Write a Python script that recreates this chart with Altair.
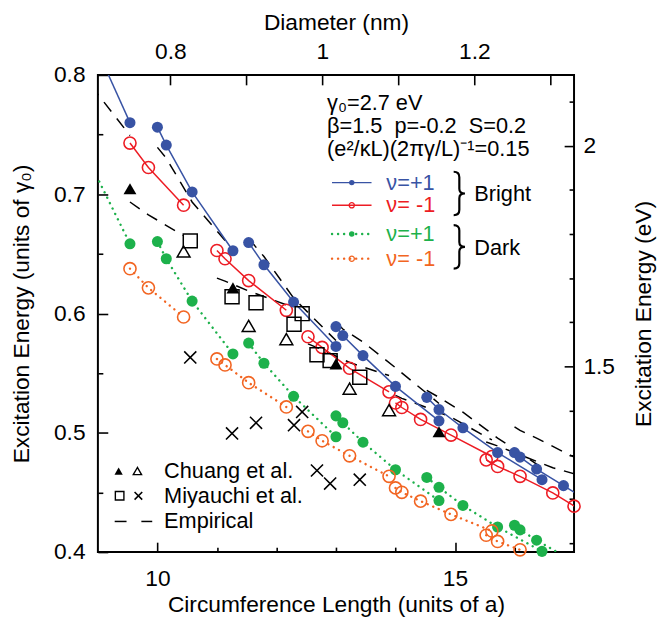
import altair as alt
import pandas as pd

FONT = "Liberation Sans"
FS = 23          # axis labels / titles
FS_ANN = 22      # annotation text
K_NM = 0.246 / 3.141592653589793   # diameter (nm) per unit of circumference (a)
GAMMA0 = 2.7                       # eV per unit of gamma0

BLUE = "#3853a4"
RED = "#ed1c24"
GREEN = "#1db14b"
ORANGE = "#f26522"

# ---------------- computed exciton energies, nu = +1 tubes ----------------
plus_L = [8.888, 9.539, 10.0, 10.149, 10.583, 11.269, 11.533, 11.790, 12.288, 13.0,
          13.0, 13.115, 13.454, 14.0, 14.731, 14.526, 14.731, 15.133, 15.716, 16.462,
          16.0, 16.093, 16.371, 16.823, 17.436]
plus_family = [17, 17, 20, 20, 20, 20, 23, 23, 23, 23,
               26, 26, 26, 26, 26, 29, 29, 29, 29, 29,
               32, 32, 32, 32, 32]
bright_plus_E = [0.832, 0.760, 0.7562, 0.7412, 0.7019, 0.6526, 0.6595, 0.6409, 0.6096, 0.5724,
                 0.5890, 0.5815, 0.5647, 0.5389, 0.5100, 0.5297, 0.5195, 0.5042, 0.4834, 0.4607,
                 0.4834, 0.4796, 0.4696, 0.4557, 0.437]
dark_plus_E = [0.7243, 0.6584, 0.6603, 0.6459, 0.6104, 0.5661, 0.5752, 0.5583, 0.5306, 0.4967,
               0.5142, 0.5084, 0.4921, 0.4690, 0.4432, 0.4626, 0.4543, 0.4391, 0.4210, 0.4006,
               0.4225, 0.4186, 0.4100, 0.397, 0.372]

# ---------------- computed exciton energies, nu = -1 tubes ----------------
minus_L = [9.539, 9.849, 10.440, 11.0, 11.136, 11.533, 12.166, 12.530, 12.767, 13.229,
           13.892, 14.0, 14.107, 14.422, 14.933, 15.620, 15.524, 15.716, 16.093, 16.643,
           17.349, 17.0]
minus_family = [19, 19, 19, 22, 22, 22, 22, 25, 25, 25,
                25, 28, 28, 28, 28, 28, 31, 31, 31, 31,
                31, 34]
bright_minus_E = [0.7429, 0.7224, 0.6908, 0.6528, 0.6459, 0.6276, 0.6027, 0.5805, 0.5716, 0.5541,
                  0.5343, 0.5250, 0.5212, 0.5112, 0.4981, 0.4801, 0.4773, 0.4718, 0.4635, 0.4496,
                  0.428, 0.4385]
dark_minus_E = [0.6376, 0.6215, 0.5971, 0.5619, 0.5569, 0.5420, 0.5217, 0.5012, 0.4933, 0.4807,
                0.4635, 0.4538, 0.4501, 0.4427, 0.4316, 0.4177, 0.4141, 0.4089, 0.4019, 0.389,
                0.37, 0.378]

# ---------------- empirical (dashed) ----------------
emp_L = [8.888, 9.539,
         10.0, 10.149, 10.583, 11.269,
         9.539, 9.849, 10.44,
         11.0, 11.136, 11.533, 12.166,
         11.533, 11.79, 12.288, 13.0,
         12.53, 12.767, 13.229, 13.892,
         13.0, 13.115, 13.454, 14.0, 14.731,
         14.0, 14.107, 14.422, 14.933, 15.62,
         14.526, 14.731, 15.133, 15.716, 16.462,
         15.524, 15.716, 16.093, 16.643, 17.349,
         16.0, 16.093, 16.371, 16.823, 17.436]
emp_E = [0.7909, 0.7493,
         0.7393, 0.7302, 0.6935, 0.6535,
         0.6935, 0.6827, 0.6653,
         0.6297, 0.6272, 0.6189, 0.6073,
         0.6628, 0.6478, 0.6130, 0.5773,
         0.5746, 0.5697, 0.5589, 0.5480,
         0.5929, 0.5870, 0.5762, 0.5546, 0.5246,
         0.5314, 0.5289, 0.5231, 0.5131, 0.4940,
         0.5356, 0.5297, 0.5173, 0.4956, 0.4707,
         0.4923, 0.4890, 0.4815, 0.4707, 0.4607,
         0.5050, 0.5020, 0.4955, 0.4840, 0.4690]
emp_family = [17, 17, 20, 20, 20, 20, 19, 19, 19, 22, 22, 22, 22, 23, 23, 23, 23,
              25, 25, 25, 25, 26, 26, 26, 26, 26, 28, 28, 28, 28, 28,
              29, 29, 29, 29, 29, 31, 31, 31, 31, 31, 32, 32, 32, 32, 32]

# ---------------- experiments ----------------
chuang_fill_L = [9.539, 11.269, 13.0, 14.731]
chuang_fill_E = [0.7046, 0.6215, 0.5578, 0.5009]
chuang_open_L = [10.44, 11.533, 12.166, 13.229, 13.892]
chuang_open_E = [0.652, 0.5896, 0.5785, 0.537, 0.519]
miya_L = [10.552, 11.254, 11.657, 12.295, 12.432, 12.681, 12.902, 13.40]
miya_square_E = [0.6609, 0.614, 0.609, 0.591, 0.5999, 0.5655, 0.5605, 0.5466]
miya_cross_E = [0.5632, 0.4995, 0.5084, 0.5064, 0.5175, 0.4684, 0.4574, 0.4607]

# ---------------- axis ticks ----------------
x_major = [10, 15]
x_minor = [11, 12, 13, 14, 16]
y_major = [0.4, 0.5, 0.6, 0.7, 0.8]
y_minor = [0.45, 0.55, 0.65, 0.75]
d_ticks = [0.8, 0.9, 1.0, 1.1, 1.2, 1.3]
ev_major = [1.5, 2.0]
ev_minor = [1.1, 1.2, 1.3, 1.4, 1.6, 1.7, 1.8, 1.9, 2.1]

X_DOM = [9, 17]
Y_DOM = [0.4, 0.8]

df_plus = pd.DataFrame({"L": plus_L, "fam": plus_family, "bright": bright_plus_E, "dark": dark_plus_E})
df_minus = pd.DataFrame({"L": minus_L, "fam": minus_family, "bright": bright_minus_E, "dark": dark_minus_E})
df_emp = pd.DataFrame({"L": emp_L, "E": emp_E, "fam": emp_family})
df_cf = pd.DataFrame({"L": chuang_fill_L, "E": chuang_fill_E})
df_co = pd.DataFrame({"L": chuang_open_L, "E": chuang_open_E})
df_ms = pd.DataFrame({"L": miya_L, "E": miya_square_E})
df_mx = pd.DataFrame({"L": miya_L, "E": miya_cross_E})
df_ax = pd.DataFrame({"L": X_DOM, "E": Y_DOM,
                      "d": [v * K_NM for v in X_DOM], "eV": [v * GAMMA0 for v in Y_DOM]})
one = pd.DataFrame({"k": [0]})


def xs():
    return alt.Scale(domain=X_DOM, nice=False, zero=False)


def ys():
    return alt.Scale(domain=Y_DOM, nice=False, zero=False)


def X(field="L"):
    return alt.X(field, type="quantitative", scale=xs(), axis=None)


def Y(field="E"):
    return alt.Y(field, type="quantitative", scale=ys(), axis=None)


AX = dict(domain=False, grid=False, labelFont=FONT, labelFontSize=FS, labelColor="black",
          titleFont=FONT, titleFontSize=FS, titleFontWeight="normal", titleColor="black",
          tickColor="black", tickWidth=1.6, labelFlush=False, labelOverlap=False)

# ---- axes (inward ticks via negative offset) ----
ax_main = alt.Chart(df_ax).mark_point(opacity=0).encode(
    x=alt.X("L:Q", scale=xs(), axis=alt.Axis(orient="bottom", values=x_major, tickSize=10, offset=-10,
                                              labelPadding=16, title="Circumference Length (units of a)",
                                              titlePadding=3, **AX)),
    y=alt.Y("E:Q", scale=ys(), axis=alt.Axis(orient="left", values=y_major, format=".1f", tickSize=10,
                                              offset=-10, labelPadding=13,
                                              title="Excitation Energy (units of γ₀)", titlePadding=20, **AX)),
)
ax_minor = alt.Chart(df_ax).mark_point(opacity=0).encode(
    x=alt.X("L:Q", scale=xs(), axis=alt.Axis(orient="bottom", values=x_minor, tickSize=5, offset=-5,
                                              labels=False, title="", **AX)),
    y=alt.Y("E:Q", scale=ys(), axis=alt.Axis(orient="left", values=y_minor, tickSize=5, offset=-5,
                                              labels=False, title="", **AX)),
)
ax_second = alt.Chart(df_ax).mark_point(opacity=0).encode(
    x=alt.X("d:Q", scale=alt.Scale(domain=[v * K_NM for v in X_DOM], nice=False, zero=False),
            axis=alt.Axis(orient="top", values=d_ticks, format="~g", tickSize=10, offset=-10,
                          labelPadding=12,
                          labelExpr="(round(datum.value*10) % 2 == 0) ? datum.label : ''",
                          title="Diameter (nm)", titlePadding=6, **AX)),
    y=alt.Y("eV:Q", scale=alt.Scale(domain=[v * GAMMA0 for v in Y_DOM], nice=False, zero=False),
            axis=alt.Axis(orient="right", values=ev_major, format="~g", tickSize=10, offset=-10,
                          labelPadding=9, title="Excitation Energy (eV)", titleAngle=270,
                          titleBaseline="top", titlePadding=18, **AX)),
)
ax_second_minor = alt.Chart(df_ax).mark_point(opacity=0).encode(
    y=alt.Y("eV:Q", scale=alt.Scale(domain=[v * GAMMA0 for v in Y_DOM], nice=False, zero=False),
            axis=alt.Axis(orient="right", values=ev_minor, tickSize=5, offset=-5, labels=False,
                          title="", **AX)),
)

# ---- empirical dashed ----
emp = alt.Chart(df_emp).mark_line(color="black", strokeWidth=1.5, strokeDash=[12, 9], clip=True).encode(
    x=X(), y=Y(), detail="fam:N", order="L:Q")


def series(df, field, color, filled, dotted):
    line_kw = dict(color=color, clip=True)
    if dotted:
        line_kw.update(strokeWidth=2.4, strokeDash=[0.1, 6], strokeCap="round")
    else:
        line_kw.update(strokeWidth=1.5)
    line = alt.Chart(df).mark_line(**line_kw).encode(x=X(), y=Y(field), detail="fam:N", order="L:Q")
    flt = f"datum.L >= 9 && datum.L <= 17 && datum.{field} >= 0.399 && datum.{field} <= 0.8"
    if filled:
        pts = alt.Chart(df).transform_filter(flt).mark_point(
            shape="circle", filled=True, size=125, color=color, opacity=1).encode(x=X(), y=Y(field))
    else:
        pts = alt.Chart(df).transform_filter(flt).mark_point(
            shape="circle", filled=False, size=150, strokeWidth=1.6, color=color, opacity=1).encode(
            x=X(), y=Y(field))
    return [line, pts]


layers_data = []
layers_data += series(df_plus, "dark", GREEN, True, True)
layers_data += series(df_minus, "dark", ORANGE, False, True)
layers_data += series(df_minus, "bright", RED, False, False)
layers_data += series(df_plus, "bright", BLUE, True, False)

cross_path = "M-1,-1L1,1M-1,1L1,-1"
brace_path = "M-0.22,-1Q0.04,-1 0.04,-0.75L0.04,-0.22Q0.04,0 0.3,0Q0.04,0 0.04,0.22L0.04,0.75Q0.04,1 -0.22,1"
exp_layers = [
    alt.Chart(df_cf).mark_point(shape="triangle-up", filled=True, size=170, color="black", opacity=1).encode(x=X(), y=Y()),
    alt.Chart(df_co).mark_point(shape="triangle-up", filled=False, size=170, strokeWidth=1.5, color="black", opacity=1).encode(x=X(), y=Y()),
    alt.Chart(df_ms).mark_point(shape="square", filled=False, size=200, strokeWidth=1.5, color="black", opacity=1).encode(x=X(), y=Y()),
    alt.Chart(df_mx).mark_point(shape=cross_path, filled=False, size=150, strokeWidth=1.6, color="black", opacity=1).encode(x=X(), y=Y()),
]

# ---------------- annotations & legends (plot-area pixel positions) ----------------
def text(t, x, y, color="black", size=FS_ANN, font=FONT, align="left"):
    return alt.Chart(one).mark_text(text=t, align=align, baseline="middle", fontSize=size, font=font,
                                    color=color).encode(x=alt.value(x), y=alt.value(y))


def sym(x, y, shape, filled, size, color="black", sw=1.4):
    return alt.Chart(one).mark_point(shape=shape, filled=filled, size=size, color=color, opacity=1,
                                     strokeWidth=sw).encode(x=alt.value(x), y=alt.value(y))


def seg(x1, x2, y, color, dotted=False, width=1.5):
    kw = dict(color=color, strokeWidth=width)
    if dotted:
        kw.update(strokeDash=[0.1, 6], strokeCap="round", strokeWidth=2.4)
    return alt.Chart(one).mark_rule(**kw).encode(x=alt.value(x1), x2=alt.value(x2), y=alt.value(y))


param_lines = ["γ₀=2.7 eV", "β=1.5\u00a0\u00a0p=-0.2\u00a0\u00a0S=0.2", "(e²/κL)(2πγ/L)⁻¹=0.15"]
param_y = [28, 52, 75]
nu_labels = ["ν=+1", "ν= -1", "ν=+1", "ν= -1"]
nu_colors = [BLUE, RED, GREEN, ORANGE]
nu_filled = [True, False, True, False]
nu_dotted = [False, False, True, True]
nu_y = [109, 132, 161, 186]
group_labels = ["Bright", "Dark"]
group_y = [121, 175]

ann = []
for t, yy in zip(param_lines, param_y):
    ann.append(text(t, 232, yy))
for lab, col, fil, dot, yy in zip(nu_labels, nu_colors, nu_filled, nu_dotted, nu_y):
    ann.append(seg(237, 277, yy, col, dotted=dot))
    ann.append(sym(257, yy, "circle", fil, 30 if fil else 28, color=col, sw=1.3))
    ann.append(text(lab, 292, yy, color=col))
for lab, yy in zip(group_labels, group_y):
    ann.append(sym(365, yy - 1, brace_path, False, 1936, sw=2.2))
    ann.append(text(lab, 381, yy))

exp_labels = ["Chuang et al.", "Miyauchi et al.", "Empirical"]
exp_y = [401, 426, 452]
ann.append(sym(21, exp_y[0], "triangle-up", True, 70))
ann.append(sym(40, exp_y[0], "triangle-up", False, 70))
ann.append(sym(22, exp_y[1], "square", False, 75))
ann.append(sym(41, exp_y[1], cross_path, False, 60, sw=1.6))
ann.append(seg(17, 29, exp_y[2], "black"))
ann.append(seg(44, 55, exp_y[2], "black"))
for lab, yy in zip(exp_labels, exp_y):
    ann.append(text(lab, 67, yy))

chart = alt.layer(
    ax_main, ax_minor, ax_second, ax_second_minor, emp, *layers_data, *exp_layers, *ann
).resolve_scale(x="independent", y="independent").resolve_axis(x="independent", y="independent").properties(
    width=482, height=483,
    autosize=alt.AutoSizeParams(type="none"),
    padding={"left": 91, "top": 64, "right": 85, "bottom": 66},
).configure_view(stroke="black", strokeWidth=2)

chart.save("out.html", embed_options={"renderer": "svg", "actions": False})
